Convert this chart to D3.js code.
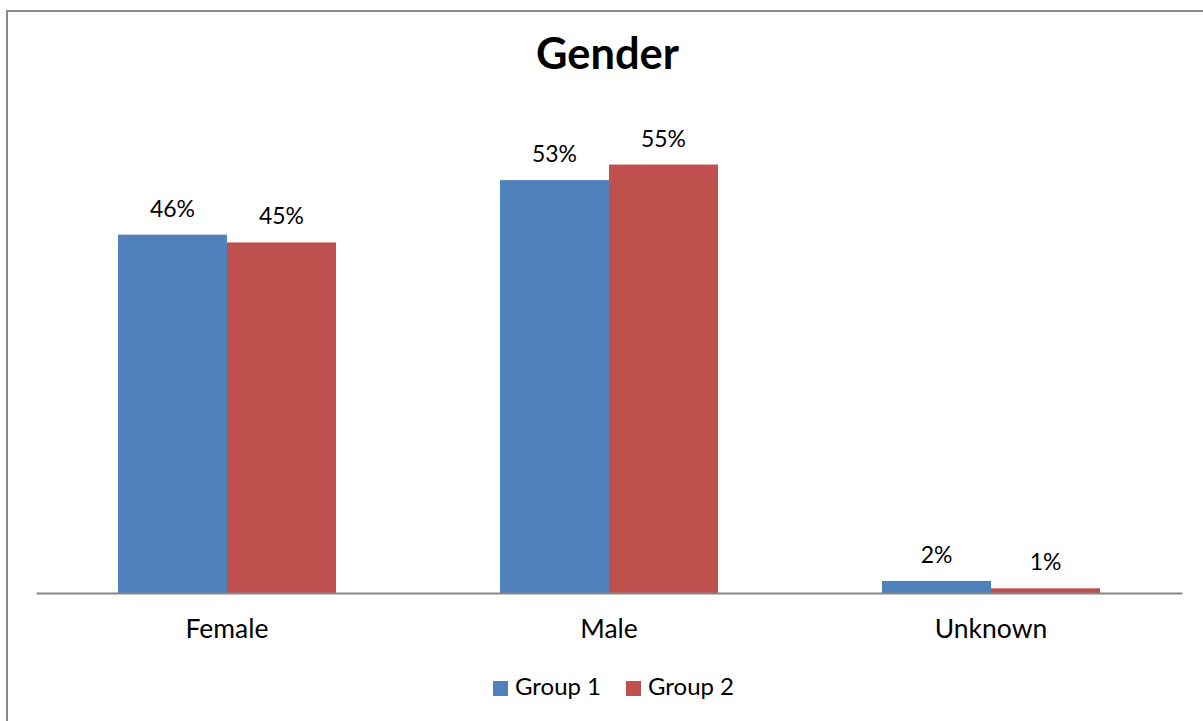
<!DOCTYPE html>
<html><head><meta charset="utf-8">
<script src="https://cdn.jsdelivr.net/npm/d3@7"></script>
<style>html,body{margin:0;padding:0;background:#fff;} svg{display:block;}</style>
</head><body>
<svg id="c" width="1203" height="721"></svg>
<script>
const title = "Gender";
const categories = ["Female", "Male", "Unknown"];
const seriesNames = ["Group 1", "Group 2"];
const group1 = [46, 53, 1.55];
const group2 = [45, 55, 0.6];
const group1Labels = ["46%", "53%", "2%"];
const group2Labels = ["45%", "55%", "1%"];
const colors = ["#4F81BD", "#C0504D"];

const FONT = "Lato, 'Open Sans', sans-serif";
const svg = d3.select("#c");
const W = 1203, H = 721;
svg.append("rect").attr("width", W).attr("height", H).attr("fill", "#fff");
// outer frame (only top/left visible in picture)
svg.append("rect").attr("x", 7).attr("y", 11).attr("width", W + 20).attr("height", H + 20)
  .attr("fill", "none").attr("stroke", "#898989").attr("stroke-width", 2);

const x0 = d3.scaleBand().domain(categories).range([36, 1182]).paddingInner(0).paddingOuter(0);
const groupW = 218;
const x1 = d3.scaleBand().domain(seriesNames).range([0, groupW]);
const y = d3.scaleLinear().domain([0, 60]).range([593, 125.6]);

function fitSize(str, target, weight) {
  const t = svg.append("text").attr("font-family", FONT).attr("font-weight", weight || "normal")
    .attr("font-size", 100).text(str);
  const w = t.node().getComputedTextLength();
  t.remove();
  return 100 * target / w;
}

const rows = categories.map((c, i) => ({
  cat: c,
  vals: [
    { s: seriesNames[0], v: group1[i], lab: group1Labels[i], col: colors[0] },
    { s: seriesNames[1], v: group2[i], lab: group2Labels[i], col: colors[1] }
  ]
}));

const g = svg.append("g");
const grp = g.selectAll("g.cat").data(rows).join("g")
  .attr("transform", d => `translate(${x0(d.cat) + (x0.bandwidth() - groupW) / 2},0)`);
grp.selectAll("rect").data(d => d.vals).join("rect")
  .attr("x", d => x1(d.s)).attr("width", x1.bandwidth())
  .attr("y", d => y(d.v)).attr("height", d => y(0) - y(d.v))
  .attr("fill", d => d.col);

const labSize = fitSize("46%", 45);
grp.selectAll("text").data(d => d.vals).join("text")
  .attr("x", d => x1(d.s) + x1.bandwidth() / 2)
  .attr("y", d => y(d.v) - 18)
  .attr("text-anchor", "middle").attr("font-family", FONT).attr("font-size", labSize)
  .attr("fill", "#000").text(d => d.lab);

// baseline axis
const xAxis = d3.axisBottom(x0).tickSize(0).tickPadding(0);
const ax = svg.append("g").attr("transform", `translate(0,${y(0)})`).call(xAxis);
ax.select(".domain").attr("stroke", "#868686").attr("stroke-width", 2);
const catSize = fitSize("Female", 83);
ax.selectAll(".tick text").attr("font-family", FONT).attr("font-size", catSize)
  .attr("fill", "#000").attr("dy", null).attr("y", 45);

// title
svg.append("text").attr("x", 607.5).attr("y", 69).attr("text-anchor", "middle")
  .attr("font-family", FONT).attr("font-weight", "bold")
  .attr("font-size", fitSize(title, 143, "bold")).attr("fill", "#000").text(title);

// legend
const legSize = fitSize("Group 1", 86);
const legX = [493, 626];
seriesNames.forEach((s, i) => {
  svg.append("rect").attr("x", legX[i]).attr("y", 681).attr("width", 15).attr("height", 15).attr("fill", colors[i]);
  svg.append("text").attr("x", legX[i] + 22).attr("y", 695).attr("font-family", FONT)
    .attr("font-size", legSize).attr("fill", "#000").text(s);
});
</script>
</body></html>
